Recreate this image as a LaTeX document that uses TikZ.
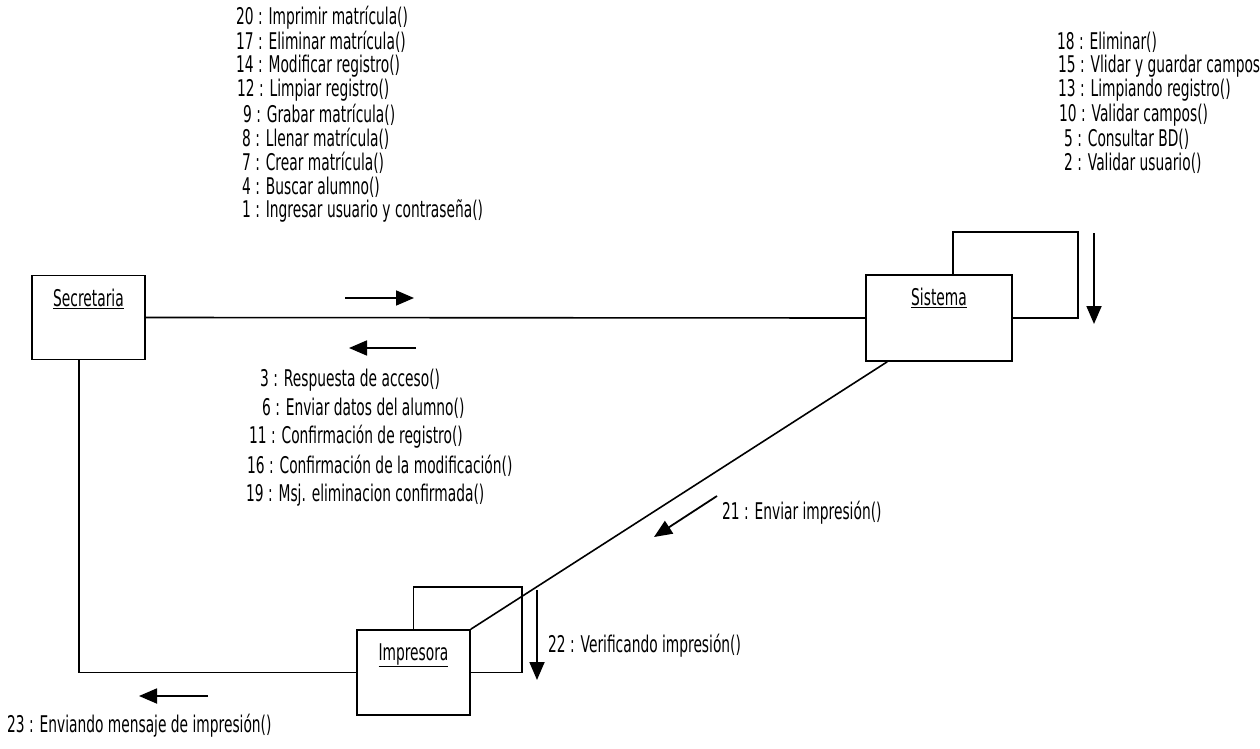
\documentclass[tikz,border=0pt]{standalone}
\usepackage{fontspec}
\setmainfont{DejaVu Sans}[FakeStretch=0.6]
\usetikzlibrary{arrows.meta,calc}
\begin{document}
\begin{tikzpicture}[x=1pt,y=-1pt,
  obj/.style={draw, line width=1.6pt, rectangle, inner sep=0pt},
  link/.style={line width=1.6pt},
  msg/.style={line width=1.8pt, -{Triangle[length=18pt,width=15pt]}},
  lbl/.style={font=\fontsize{23}{24}\selectfont, inner sep=0pt, anchor=west},
  objname/.style={font=\fontsize{23}{24}\selectfont, inner sep=0pt}]
\fill[white] (0,0) rectangle (1260,749);
\useasboundingbox (0,0) rectangle (1260,749);

% objects
\node[obj, minimum width=113pt, minimum height=84pt] (sec) at (88.5,317.5) {};
\node[obj, minimum width=146pt, minimum height=86pt] (sis) at (939,318) {};
\node[obj, minimum width=113pt, minimum height=85pt] (imp) at (413.5,672.5) {};
\node[objname] (secn) at ([yshift=-24pt]sec.north) {\underline{Secretaria}};
\node[objname] (sisn) at ([yshift=-24pt]sis.north) {\underline{Sistema}};
\node[objname] (impn) at ([yshift=-26pt]imp.north) {\underline{Impresora}};

% links
\coordinate (bend) at (79,672.5);
\coordinate (sisloop) at (1078,232);
\coordinate (imploop) at (522,587);
\draw[link] (sec.east) -- (sis.west);
\draw[link] (sec.south -| bend) -- (bend) -- (imp.west);
\draw[link] ([xshift=14pt]sis.north) |- (sisloop) |- (sis.east);
\draw[link] (imp.north) |- (imploop) |- (imp.east);
\draw[link] ([xshift=22pt]sis.south west) -- (imp.north east);

% message arrows
\coordinate (m1s) at (345,298); \coordinate (m1e) at (414,298);
\coordinate (m2s) at (416,348); \coordinate (m2e) at (349,348);
\coordinate (m3s) at (1094,233); \coordinate (m3e) at (1094,324);
\coordinate (m4s) at (717,496); \coordinate (m4e) at (654,537);
\coordinate (m5s) at (537,590); \coordinate (m5e) at (537,680);
\coordinate (m6s) at (208,696); \coordinate (m6e) at (139,696);
\draw[msg] (m1s) -- (m1e);
\draw[msg] (m2s) -- (m2e);
\draw[msg] (m3s) -- (m3e);
\draw[msg] (m4s) -- (m4e);
\draw[msg] (m5s) -- (m5e);
\draw[msg] (m6s) -- (m6e);

% labels: Secretaria -> Sistema
\node[lbl] (l20) at (236,18) {20 : Imprimir matrícula()};
\node[lbl] (l17) at (236,42) {17 : Eliminar matrícula()};
\node[lbl] (l14) at (236,66) {14 : Modificar registro()};
\node[lbl] (l12) at (237,90) {12 : Limpiar registro()};
\node[lbl] (l9) at (243,115) {9 : Grabar matrícula()};
\node[lbl] (l8) at (242,139) {8 : Llenar matrícula()};
\node[lbl] (l7) at (242,163) {7 : Crear matrícula()};
\node[lbl] (l4) at (242,187) {4 : Buscar alumno()};
\node[lbl] (l1) at (242,211) {1 : Ingresar usuario y contraseña()};

% labels: Sistema self
\node[lbl] (l18) at (1057,42) {18 : Eliminar()};
\node[lbl] (l15) at (1058,66) {15 : Vlidar y guardar campos};
\node[lbl] (l13) at (1058,90) {13 : Limpiando registro()};
\node[lbl] (l10) at (1059,115) {10 : Validar campos()};
\node[lbl] (l5) at (1064,139) {5 : Consultar BD()};
\node[lbl] (l2) at (1064,163) {2 : Validar usuario()};

% labels: Sistema -> Secretaria
\node[lbl] (l3) at (260,380) {3 : Respuesta de acceso()};
\node[lbl] (l6) at (262,408) {6 : Enviar datos del alumno()};
\node[lbl] (l11) at (249,437) {11 : Confirmación de registro()};
\node[lbl] (l16) at (247,466) {16 : Confirmación de la modificación()};
\node[lbl] (l19) at (246,495) {19 : Msj. eliminacion confirmada()};

% other labels
\node[lbl] (l21) at (722,513) {21 : Enviar impresión()};
\node[lbl] (l22) at (548,646) {22 : Verificando impresión()};
\node[lbl] (l23) at (7,726) {23 : Enviando mensaje de impresión()};
\end{tikzpicture}
\end{document}
